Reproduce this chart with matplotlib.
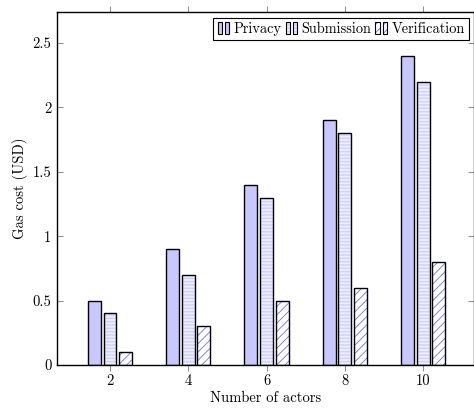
import matplotlib
matplotlib.use("Agg")
import matplotlib.pyplot as plt
from matplotlib.patches import Rectangle, Patch
from matplotlib.legend_handler import HandlerBase
import numpy as np

plt.rcParams['font.family'] = 'serif'
plt.rcParams['font.serif'] = ['cmr10', 'DejaVu Serif']
plt.rcParams['mathtext.fontset'] = 'cm'
plt.rcParams['axes.formatter.use_mathtext'] = True

actors = [2, 4, 6, 8, 10]
privacy = [0.5, 0.9, 1.4, 1.9, 2.4]
submission = [0.4, 0.7, 1.3, 1.8, 2.2]
verification = [0.1, 0.3, 0.5, 0.6, 0.8]
series_names = ["Privacy", "Submission", "Verification"]
yticks = [0, 0.5, 1, 1.5, 2, 2.5]
ytick_labels = ["0", "0.5", "1", "1.5", "2", "2.5"]

styles = [
    dict(face="#c8c8ff", hatch=None, hcolor=None, hlw=0),
    dict(face="#eeeeff", hatch="-----", hcolor="#d2d2ff", hlw=1.1),
    dict(face="white", hatch="////", hcolor="#6f6fff", hlw=0.6),
]

fig = plt.figure(figsize=(4.74, 4.08), dpi=100)
ax = fig.add_axes([57/474, 1 - 365/408, 417.5/474, 353/408])

x = np.array(actors, dtype=float)
offsets = [-0.40, 0.0, 0.40]
width = 0.33
for vals, off, st in zip([privacy, submission, verification], offsets, styles):
    if st["hatch"]:
        with plt.rc_context({'hatch.linewidth': st["hlw"]}):
            ax.bar(x + off, vals, width, color=st["face"], hatch=st["hatch"],
                   edgecolor=st["hcolor"], linewidth=0, zorder=2)
    else:
        ax.bar(x + off, vals, width, color=st["face"], linewidth=0, zorder=2)
    ax.bar(x + off, vals, width, facecolor="none", edgecolor="black",
           linewidth=1.0, zorder=3)

ax.set_xlim(0.647, 11.31)
ax.set_ylim(0, 2.741)
ax.set_xticks(actors)
ax.set_xticklabels([str(a) for a in actors])
ax.set_yticks(yticks)
ax.set_yticklabels(ytick_labels)

ax.tick_params(axis='x', direction='out', top=True, bottom=True, length=4,
               width=0.6, color='#777777', labelsize=10.5, pad=3)
ax.tick_params(axis='y', direction='in', left=True, right=True, length=4,
               width=0.6, color='#777777', labelsize=10.5, pad=4)
for sp in ax.spines.values():
    sp.set_linewidth(1.0)
    sp.set_color('black')

ax.set_xlabel("Number of actors", fontsize=10.5, labelpad=2)
ax.set_ylabel("Gas cost (USD)", fontsize=10.5, labelpad=3)


class TwoBarHandler(HandlerBase):
    def __init__(self, st):
        super().__init__()
        self.st = st

    def create_artists(self, legend, orig_handle, xdescent, ydescent,
                       width, height, fontsize, trans):
        arts = []
        bw = width * 0.36
        for x0 in [0.0, width * 0.58]:
            rx = x0 - xdescent
            ry = -ydescent - height * 0.1
            rh = height * 1.15
            st = self.st
            if st["hatch"]:
                with plt.rc_context({'hatch.linewidth': st["hlw"]}):
                    r = Rectangle((rx, ry), bw, rh, facecolor=st["face"],
                                  hatch=st["hatch"], edgecolor=st["hcolor"],
                                  linewidth=0, transform=trans)
            else:
                r = Rectangle((rx, ry), bw, rh, facecolor=st["face"],
                              linewidth=0, transform=trans)
            o = Rectangle((rx, ry), bw, rh, facecolor="none",
                          edgecolor="black", linewidth=0.8, transform=trans)
            arts += [r, o]
        return arts


handles = [Patch(label=n) for n in series_names]
hmap = {h: TwoBarHandler(st) for h, st in zip(handles, styles)}
leg = ax.legend(handles=handles, labels=series_names, handler_map=hmap,
                loc='upper right', ncol=3, fontsize=10.3, frameon=True,
                fancybox=False, edgecolor='black', framealpha=1,
                handlelength=0.85, handletextpad=0.25, columnspacing=0.3,
                borderpad=0.3, borderaxespad=0.4)
leg.get_frame().set_linewidth(0.8)

fig.savefig("out.png", dpi=100)
